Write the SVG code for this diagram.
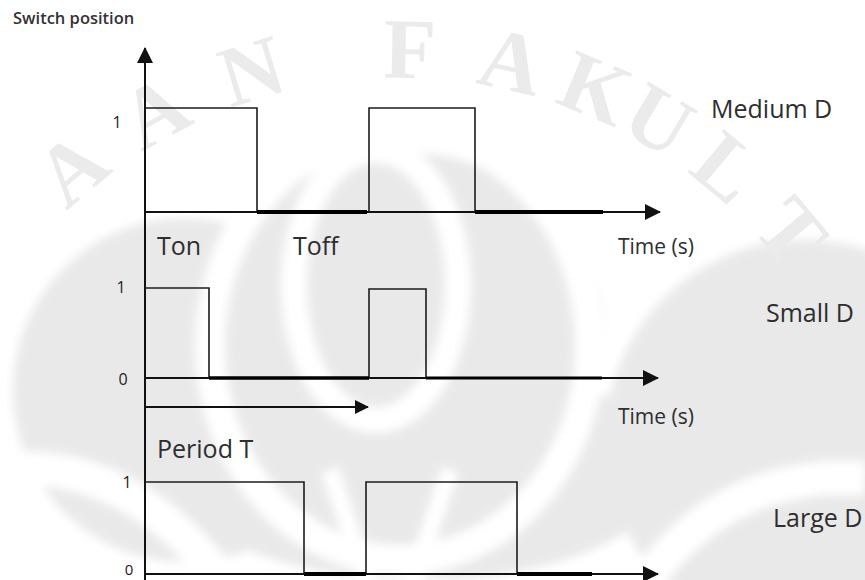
<svg xmlns="http://www.w3.org/2000/svg" width="865" height="580" viewBox="0 0 865 580">
  <defs>
    <filter id="soft" x="-20%" y="-20%" width="140%" height="140%">
      <feGaussianBlur stdDeviation="5"/>
    </filter>
    <marker id="head" viewBox="0 0 16 16" refX="15" refY="8" markerWidth="16" markerHeight="16" markerUnits="userSpaceOnUse" orient="auto">
      <path d="M0,0 L16,8 L0,16 Z" fill="#111"/>
    </marker>
    <marker id="headS" viewBox="0 0 14 14" refX="13" refY="7" markerWidth="14" markerHeight="14" markerUnits="userSpaceOnUse" orient="auto">
      <path d="M0,0 L14,7 L0,14 Z" fill="#111"/>
    </marker>
    <style>
      .ax{stroke:#111;stroke-width:2;fill:none}
      .pulse{stroke:#1c1c1c;stroke-width:1.6;fill:none}
      .off{stroke:#000;stroke-width:4;fill:none}
      .lbl{font-family:"Open Sans","Liberation Sans",sans-serif;fill:#2e2e2e}
      .big{font-size:25px}
      .time{font-size:21px}
      .num{font-size:16px;text-anchor:middle;fill:#222}
      .title{font-size:16.5px;font-weight:600;fill:#333}
      .wm{font-family:"Liberation Serif",serif;font-size:86px;font-weight:bold;fill:#ebebeb;text-anchor:middle}
      .band{fill:none;stroke:#fff}
    </style>
  </defs>

  <rect width="865" height="580" fill="#fff"/>

  <!-- faint emblem behind the plot -->
  <g id="emblem" filter="url(#soft)">
    <g fill="#e9e9e9">
      <ellipse cx="400" cy="330" rx="205" ry="178"/>
      <circle cx="185" cy="390" r="172"/>
      <circle cx="805" cy="440" r="200"/>
      <ellipse cx="420" cy="470" rx="250" ry="110"/>
    </g>
    <ellipse class="band" cx="400" cy="345" rx="190" ry="215" stroke-width="30"/>
    <ellipse class="band" cx="376" cy="285" rx="82" ry="135" stroke-width="26"/>
    <path class="band" d="M0,470 Q130,455 230,590" stroke-width="34"/>
    <path class="band" d="M640,590 Q720,470 865,478" stroke-width="34"/>
    <path class="band" d="M330,470 L370,590 M450,470 L410,590" stroke-width="18"/>
  </g>
  <g id="emblem-lettering">
    <text class="wm" x="400" y="78" transform="rotate(-40 400 560)">A</text>
    <text class="wm" x="400" y="78" transform="rotate(-28.7 400 560)">A</text>
    <text class="wm" x="400" y="78" transform="rotate(-16.9 400 560)">N</text>
    <text class="wm" x="400" y="78" transform="rotate(1.1 400 560)">F</text>
    <text class="wm" x="400" y="78" transform="rotate(12.6 400 560)">A</text>
    <text class="wm" x="400" y="78" transform="rotate(22.5 400 560)">K</text>
    <text class="wm" x="400" y="78" transform="rotate(30.5 400 560)">U</text>
    <text class="wm" x="400" y="78" transform="rotate(39.8 400 560)">L</text>
    <text class="wm" x="400" y="78" transform="rotate(50 400 560)">T</text>
  </g>

  <!-- axes and arrows -->
  <g id="connectors">
    <line class="ax" x1="145" y1="580" x2="145" y2="48" marker-end="url(#head)"/>
    <line class="ax" x1="145" y1="212" x2="660" y2="212" marker-end="url(#head)"/>
    <line class="ax" x1="145" y1="378" x2="658" y2="378" marker-end="url(#head)"/>
    <line class="ax" x1="145" y1="407" x2="368" y2="407" marker-end="url(#headS)"/>
    <line class="ax" x1="145" y1="574" x2="658" y2="574" marker-end="url(#head)"/>
  </g>

  <!-- medium duty cycle -->
  <g id="medium-d">
    <polyline class="pulse" points="145,108 257,108 257,212"/>
    <polyline class="pulse" points="369,212 369,108 475,108 475,212"/>
    <line class="off" x1="257" y1="212" x2="367" y2="212"/>
    <line class="off" x1="475" y1="212" x2="603" y2="212"/>
    <text class="lbl num" x="117" y="128">1</text>
    <text class="lbl big" x="711" y="118">Medium D</text>
  </g>

  <!-- small duty cycle -->
  <g id="small-d">
    <polyline class="pulse" points="145,288 209,288 209,378"/>
    <polyline class="pulse" points="369,378 369,289 426,289 426,378"/>
    <line class="off" x1="209" y1="378" x2="369" y2="378" style="stroke-width:3.5"/>
    <line class="off" x1="426" y1="378" x2="602" y2="378" style="stroke-width:3"/>
    <text class="lbl num" x="121" y="293">1</text>
    <text class="lbl num" x="123" y="385">0</text>
    <text class="lbl big" x="766" y="322">Small D</text>
  </g>

  <!-- large duty cycle -->
  <g id="large-d">
    <polyline class="pulse" points="145,482 304,482 304,574"/>
    <polyline class="pulse" points="366,574 366,482 517,482 517,574"/>
    <line class="off" x1="304" y1="574" x2="366" y2="574"/>
    <line class="off" x1="517" y1="574" x2="592" y2="574"/>
    <text class="lbl num" x="127" y="488">1</text>
    <text class="lbl num" x="129" y="575" style="font-size:15px">0</text>
    <text class="lbl big" x="773" y="527">Large D</text>
  </g>

  <!-- annotations -->
  <g id="annotations">
    <text class="lbl title" x="13" y="24">Switch position</text>
    <text class="lbl big" x="157" y="255">Ton</text>
    <text class="lbl big" x="293" y="255">Toff</text>
    <text class="lbl big" x="157" y="458">Period T</text>
    <text class="lbl time" x="618" y="254">Time (s)</text>
    <text class="lbl time" x="618" y="424">Time (s)</text>
  </g>
</svg>
